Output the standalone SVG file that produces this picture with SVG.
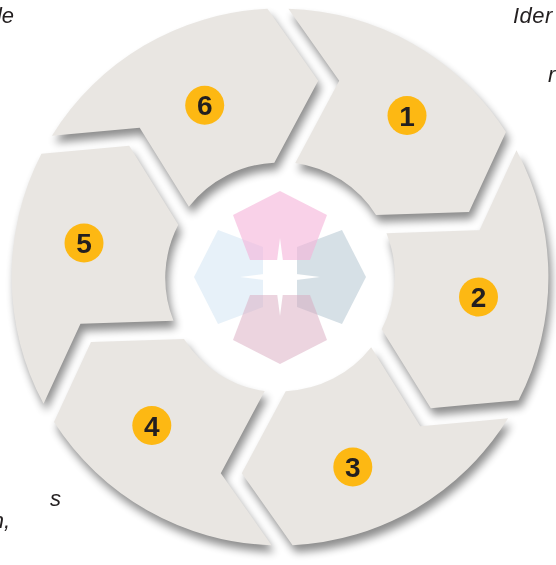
<svg xmlns="http://www.w3.org/2000/svg" xmlns:xlink="http://www.w3.org/1999/xlink" width="556" height="565" viewBox="0 0 556 565">
<style>
.seg{fill:#e9e6e2}
.badge{fill:#fdb813}
.num{font-family:"Liberation Sans",Arial,sans-serif;font-weight:bold;font-size:28px;fill:#231f20;text-anchor:middle}
.cap{font-family:"Liberation Sans",Arial,sans-serif;font-style:italic;font-size:22px;fill:#231f20}
</style>
<defs>
<path id="seg" d="M288.4,8.8 A268.5,268.5 0 0 1 506,132 L469,212 L376,215 A114.7,114.7 0 0 0 295.3,162.9 L339.2,80.8 Z"/>
<polygon id="pent" points="280,191 327,215 310,260 250,260 233,215"/>
<filter id="sh" x="-20%" y="-20%" width="140%" height="140%"><feGaussianBlur stdDeviation="4.5"/></filter>
</defs>
<rect width="556" height="565" fill="#fff"/>
<g id="shadows" filter="url(#sh)" opacity="0.45" fill="#000">
<g transform="translate(3,7)">
<use xlink:href="#seg"/>
<use xlink:href="#seg" transform="rotate(60 280 277)"/>
<use xlink:href="#seg" transform="rotate(120 280 277)"/>
<use xlink:href="#seg" transform="rotate(180 280 277)"/>
<use xlink:href="#seg" transform="rotate(240 280 277)"/>
<use xlink:href="#seg" transform="rotate(300 280 277)"/>
</g>
</g>
<g id="node-1"><use xlink:href="#seg" class="seg"/><circle class="badge" cx="407" cy="115.5" r="19.5"/><text class="num" x="407" y="125.5">1</text></g>
<g id="node-2"><use xlink:href="#seg" class="seg" transform="rotate(60 280 277)"/><circle class="badge" cx="478.5" cy="297" r="19.5"/><text class="num" x="478.5" y="307">2</text></g>
<g id="node-3"><use xlink:href="#seg" class="seg" transform="rotate(120 280 277)"/><circle class="badge" cx="352.8" cy="467" r="19.5"/><text class="num" x="352.8" y="477">3</text></g>
<g id="node-4"><use xlink:href="#seg" class="seg" transform="rotate(180 280 277)"/><circle class="badge" cx="151.8" cy="425.5" r="19.5"/><text class="num" x="151.8" y="435.5">4</text></g>
<g id="node-5"><use xlink:href="#seg" class="seg" transform="rotate(240 280 277)"/><circle class="badge" cx="84" cy="243" r="19.5"/><text class="num" x="84" y="253">5</text></g>
<g id="node-6"><use xlink:href="#seg" class="seg" transform="rotate(300 280 277)"/><circle class="badge" cx="204.7" cy="105.3" r="19.5"/><text class="num" x="204.7" y="115.3">6</text></g>
<g id="center">
<use xlink:href="#pent" fill="#cfe3f3" opacity="0.5" transform="rotate(-90 280 277)"/>
<use xlink:href="#pent" fill="#aec2ce" opacity="0.5" transform="rotate(90 280 277)"/>
<use xlink:href="#pent" fill="#f5b3d9" opacity="0.6"/>
<use xlink:href="#pent" fill="#d9a9bf" opacity="0.5" transform="rotate(180 280 277.5)"/>
<polygon fill="#fff" points="280,238 284.5,272.5 320,277 284.5,281.5 280,316 275.5,281.5 240,277 275.5,272.5"/>
</g>
<g id="captions">
<text class="cap" x="14" y="23" text-anchor="end">le</text>
<text class="cap" x="513" y="23" letter-spacing="0.5">Ider</text>
<text class="cap" x="548" y="82">r</text>
<text class="cap" x="61" y="506" text-anchor="end">s</text>
<text class="cap" x="10" y="528" text-anchor="end">n,</text>
</g>
</svg>
